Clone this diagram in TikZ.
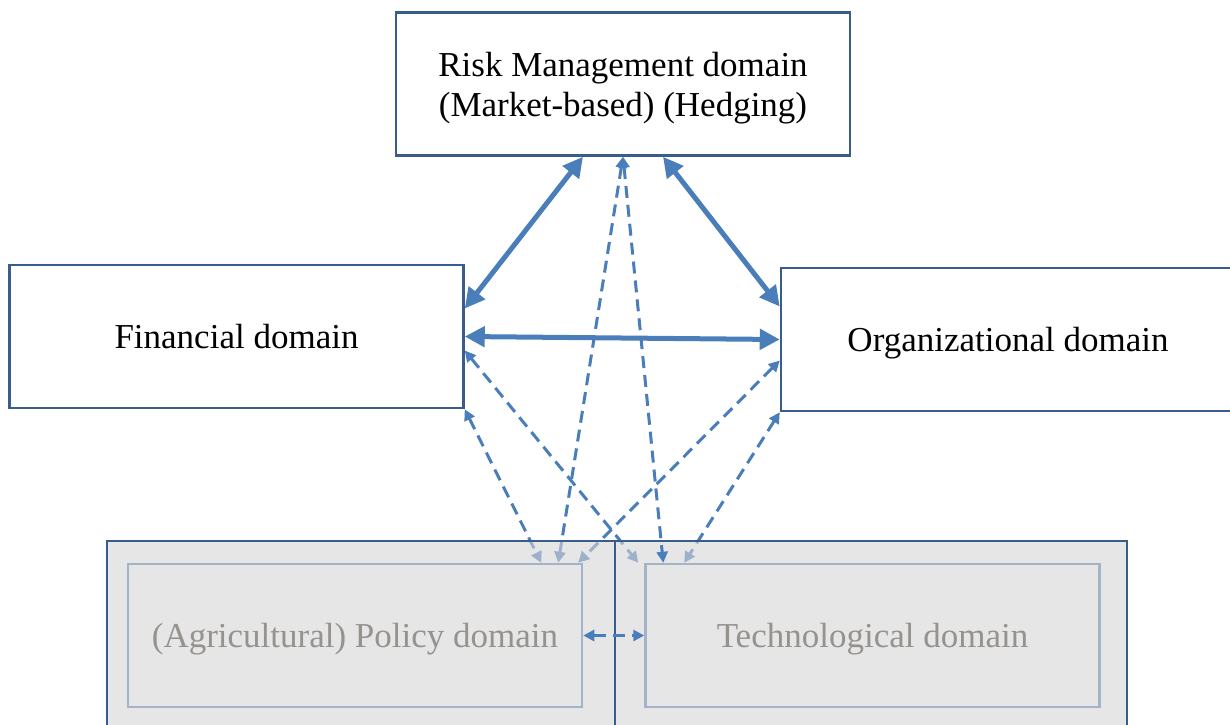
\documentclass[tikz,border=0pt]{standalone}
\usepackage{fontspec}
\setmainfont{Liberation Serif}
\usetikzlibrary{arrows.meta,calc}
\definecolor{boxblue}{RGB}{56,93,138}
\definecolor{linkblue}{RGB}{74,126,187}
\definecolor{fadegray}{RGB}{213,213,213}
\definecolor{faintedge}{RGB}{163,179,200}
\definecolor{faintgray}{RGB}{150,146,142}
\pgfdeclarelayer{back}
\pgfsetlayers{back,main}

\begin{document}
\begin{tikzpicture}[x=0.5pt,y=-0.5pt,
    realm/.style={draw=boxblue, line width=1.25pt, minimum width=227pt, minimum height=71.5pt, text depth=0pt, align=center, font=\fontsize{17.5}{20}\selectfont},
    sphere/.style={draw=boxblue, line width=1.25pt, fill=fadegray, fill opacity=0.6, minimum height=119.5pt},
    faded/.style={realm, draw=faintedge, text=faintgray},
    strong/.style={linkblue, line width=2.5pt, {Triangle[length=10pt,width=10pt]}-{Triangle[length=10pt,width=10pt]}},
    weak/.style={linkblue, line width=1.5pt, dash pattern=on 6pt off 3.5pt, {Triangle[length=5.5pt,width=5.5pt]}-{Triangle[length=5.5pt,width=5.5pt]}}
]
\useasboundingbox (0,0) rectangle (1230,724);
\clip (0,0) rectangle (1230,724);

\node[realm] (risk) at (623,84) {Risk Management domain\\(Market-based) (Hedging)};
\node[realm] (fin) at (236.5,336.5) {Financial domain};
\node[realm] (org) at (1008,339.5) {Organizational domain};

\node[sphere, minimum width=254pt] (polsphere) at (361,660.5) {};
\node[sphere, minimum width=256pt] (techsphere) at (871,660.5) {};
\node[faded] (policy) at (355,635.5) {(Agricultural) Policy domain};
\node[faded] (tech) at (872.5,635.5) {Technological domain};

\draw[strong] ($(risk.south)+(-40,0)$) -- ($(fin.east)+(0,-28)$);
\draw[strong] ($(risk.south)+(40,0)$) -- ($(org.west)+(0,-33)$);
\draw[strong] (fin.east) -- (org.west);

\begin{pgfonlayer}{back}
\draw[weak] (risk.south) -- ($(policy.north east)+(-25,0)$);
\draw[weak] (fin.south east) -- ($(policy.north east)+(-42,0)$);
\draw[weak] ($(fin.east)+(0,14)$) -- ($(tech.north west)+(-6,0)$);
\draw[weak] ($(org.west)+(0,21)$) -- ($(policy.north east)+(-5,0)$);
\draw[weak] (org.south west) -- ($(tech.north west)+(40,0)$);
\end{pgfonlayer}

\draw[weak] (risk.south) -- ($(tech.north west)+(19,0)$);
\draw[weak] (policy.east) -- (tech.west);
\end{tikzpicture}
\end{document}
